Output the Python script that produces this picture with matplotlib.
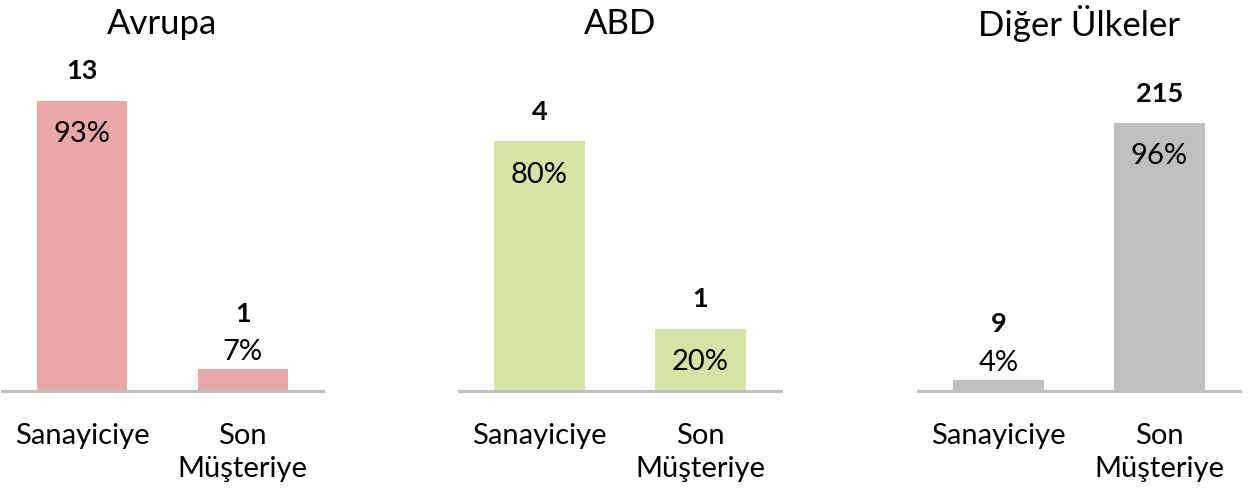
import matplotlib
matplotlib.use("Agg")
import matplotlib.pyplot as plt

plt.rcParams['font.family'] = ['Lato', 'DejaVu Sans']

titles = ["Avrupa", "ABD", "Diğer Ülkeler"]
categories = ["Sanayiciye", "Son\nMüşteriye"]
counts = [[13, 1], [4, 1], [9, 215]]
percents = [[93, 7], [80, 20], [4, 96]]
colors = ["#E9A7A7", "#D3E4A6", "#BFBFBF"]
ymax = [106, 106, 118.6]

W, H = 1249, 492
fig = plt.figure(figsize=(W / 100, H / 100), dpi=100)

panel_x = [(2, 323), (459, 781), (918, 1240)]
y_bottom, y_top = 391, 60

for i in range(3):
    x0, x1 = panel_x[i]
    ax = fig.add_axes([x0 / W, (H - y_bottom) / H, (x1 - x0) / W, (y_bottom - y_top) / H])
    xs = list(range(len(categories)))
    ax.bar(xs, percents[i], width=0.56, color=colors[i], zorder=2)
    ax.set_xlim(-0.5, 1.5)
    ax.set_ylim(0, ymax[i])
    ax.set_xticks(xs)
    ax.set_xticklabels(categories, fontsize=21, linespacing=1.35, va='top')
    ax.tick_params(axis='x', length=0, pad=23)
    ax.set_yticks([])
    for s in ['top', 'left', 'right']:
        ax.spines[s].set_visible(False)
    ax.spines['bottom'].set_color('#BFBFBF')
    ax.spines['bottom'].set_linewidth(2.2)
    ax.spines['bottom'].set_zorder(3)
    for x, p, c in zip(xs, percents[i], counts[i]):
        if p >= 15:
            ax.annotate(f"{p}%", xy=(x, p), xytext=(0, -24), textcoords='offset points',
                        ha='center', va='center', fontsize=21)
            ax.annotate(f"{c}", xy=(x, p), xytext=(0, 21), textcoords='offset points',
                        ha='center', va='center', fontsize=19.5, fontweight='bold')
        else:
            ax.annotate(f"{p}%", xy=(x, p), xytext=(0, 12), textcoords='offset points',
                        ha='center', va='center', fontsize=21)
            ax.annotate(f"{c}", xy=(x, p), xytext=(0, 40), textcoords='offset points',
                        ha='center', va='center', fontsize=19.5, fontweight='bold')
    fig.text((x0 + x1) / 2 / W, (H - 24) / H, titles[i], ha='center', va='center', fontsize=25)

fig.savefig("out.png", dpi=100, facecolor='white')
